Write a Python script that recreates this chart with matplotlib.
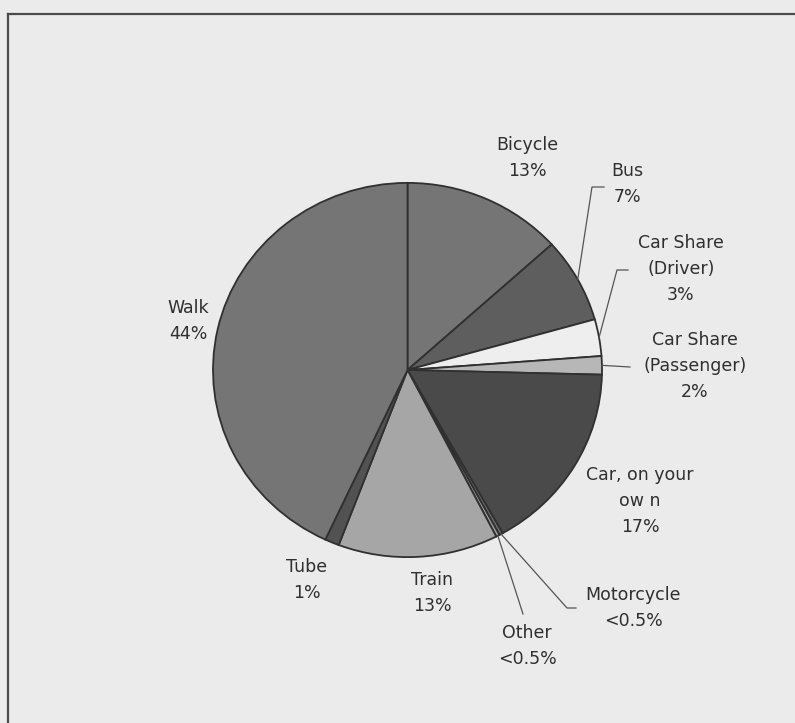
import numpy as np
import matplotlib
matplotlib.use("Agg")
import matplotlib.pyplot as plt

# ---- data ----
categories = ["Bicycle", "Bus", "Car Share\n(Driver)", "Car Share\n(Passenger)",
              "Car, on your\now n", "Motorcycle", "Other", "Train", "Tube", "Walk"]
pct_labels = ["13%", "7%", "3%", "2%", "17%", "<0.5%", "<0.5%", "13%", "1%", "44%"]
shares = [13.4, 7.4, 3.2, 1.6, 16.6, 0.3, 0.3, 13.4, 1.2, 43.4]
colors = ["#757575", "#5e5e5e", "#eeeeee", "#b7b7b7", "#4a4a4a",
          "#6a6a6a", "#9a9a9a", "#a6a6a6", "#525252", "#757575"]

W, H = 795, 723
BG = "#ebebeb"
TXT = "#2f2f2f"

fig = plt.figure(figsize=(W / 100, H / 100), dpi=100, facecolor=BG)

# pie axes (slightly squashed vertically, as in the scanned original)
cx, cy, R = 407.5, 370, 194.5
k = 0.962  # vertical / horizontal radius ratio
ax = fig.add_axes([0, 0, 1, 1])
ax.set_facecolor(BG)
wedges, _ = ax.pie(shares, colors=colors, startangle=-90, counterclock=True,
                   center=(cx, cy), radius=R,
                   wedgeprops=dict(edgecolor="#303030", linewidth=1.3))
ax.set_aspect("auto")
ax.set_xlim(0, W)
ax.set_ylim(cy + (H - cy) / k, cy + (0 - cy) / k)
ax.axis("off")

# overlay axes in pixel coordinates for frame, labels and leaders
ov = fig.add_axes([0, 0, 1, 1])
ov.patch.set_alpha(0)
ov.set_xlim(0, W)
ov.set_ylim(H, 0)
ov.axis("off")

# frame (left and top)
ov.plot([8, 8], [H, 14], color="#4a4a4a", lw=1.6)
ov.plot([8, W], [14, 14], color="#4a4a4a", lw=1.6)

# label positions (screen px, centre of text block)
label_pos = {
    "Bicycle": (527, 158),
    "Bus": (627, 184),
    "Car Share\n(Driver)": (681, 269),
    "Car Share\n(Passenger)": (695, 366),
    "Car, on your\now n": (640, 501),
    "Motorcycle": (633, 608),
    "Other": (527, 646),
    "Train": (432, 593),
    "Tube": (307, 580),
    "Walk": (188, 321),
}
for name, pct in zip(categories, pct_labels):
    x, y = label_pos[name]
    ov.text(x, y, f"{name}\n{pct}", ha="center", va="center", color=TXT,
            fontsize=12.5, family="DejaVu Sans", linespacing=1.55)


def edge_point(w, frac=0.5):
    a = np.deg2rad(w.theta1 + frac * (w.theta2 - w.theta1))
    return cx + R * np.cos(a), cy + k * R * np.sin(a)


# leader lines: (wedge index, elbow, end)
leaders = [
    (1, (592, 187), (604, 187)),
    (2, (617, 270), (628, 270)),
    (3, None, (630, 367)),
    (5, (567, 608), (576, 608)),
    (6, None, (523, 614)),
]
for idx, elbow, end in leaders:
    sx, sy = edge_point(wedges[idx])
    pts = [(sx, sy)] + ([elbow] if elbow else []) + [end]
    xs, ys = zip(*pts)
    ov.plot(xs, ys, color="#555555", lw=0.9)

fig.savefig("out.png", dpi=100, facecolor=BG)
